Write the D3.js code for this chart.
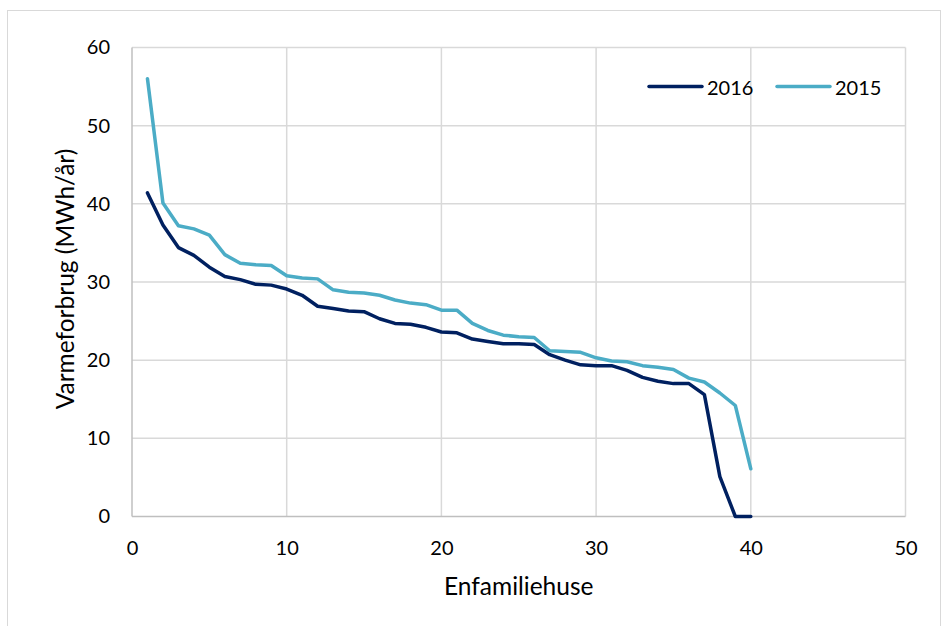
<!DOCTYPE html>
<html>
<head>
<meta charset="utf-8">
<script src="https://cdn.jsdelivr.net/npm/d3@7"></script>
<style>
  body { margin: 0; background: #fff; }
  text { font-family: Lato, "Open Sans", sans-serif; fill: #000; }
</style>
</head>
<body>
<div id="heatChart"></div>
<script>
// data
const houses = [1,2,3,4,5,6,7,8,9,10,11,12,13,14,15,16,17,18,19,20,
                21,22,23,24,25,26,27,28,29,30,31,32,33,34,35,36,37,38,39,40];
const heat2016 = [41.4,37.3,34.4,33.4,31.9,30.7,30.3,29.7,29.6,29.1,
                  28.3,26.9,26.6,26.3,26.2,25.3,24.7,24.6,24.2,23.6,
                  23.5,22.7,22.4,22.1,22.1,22.0,20.7,20.0,19.4,19.3,
                  19.3,18.7,17.8,17.3,17.0,17.0,15.6,5.1,0,0];
const heat2015 = [56.0,40.1,37.2,36.8,36.0,33.5,32.4,32.2,32.1,30.8,
                  30.5,30.4,29.0,28.7,28.6,28.3,27.7,27.3,27.1,26.4,
                  26.4,24.7,23.8,23.2,23.0,22.9,21.2,21.1,21.0,20.3,
                  19.9,19.8,19.3,19.1,18.8,17.7,17.2,15.8,14.2,6.1];
const seriesNames = ['2016', '2015'];
const xTicks = [0, 10, 20, 30, 40, 50];
const yTicks = [0, 10, 20, 30, 40, 50, 60];

const W = 947, H = 626;
const margin = {top: 47.5, right: 41.5, bottom: 109.5, left: 132},
    width = W - margin.left - margin.right,
    height = H - margin.top - margin.bottom;

const colors = {'2016': '#002060', '2015': '#4bacc6'};

const svgRoot = d3.select('#heatChart').append('svg')
    .attr('width', W)
    .attr('height', H);

// outer chart frame (bottom edge runs off the picture)
svgRoot.append('rect')
    .attr('x', 7.5).attr('y', 10.5)
    .attr('width', 933).attr('height', 640)
    .attr('fill', '#fff')
    .attr('stroke', '#d9d9d9')
    .attr('stroke-width', 1);

const svg = svgRoot.append('g')
    .attr('transform', `translate(${margin.left},${margin.top})`);

const x = d3.scaleLinear().domain([0, 50]).range([0, width]);
const y = d3.scaleLinear().domain([0, 60]).range([height, 0]);

// grid
svg.append('g')
  .selectAll('line')
  .data(yTicks.filter(d => d > 0))
  .enter().append('line')
    .attr('x1', 0).attr('x2', width)
    .attr('y1', d => y(d)).attr('y2', d => y(d))
    .attr('stroke', '#d9d9d9').attr('stroke-width', 1.5);

svg.append('g')
  .selectAll('line')
  .data(xTicks.filter(d => d > 0))
  .enter().append('line')
    .attr('x1', d => x(d)).attr('x2', d => x(d))
    .attr('y1', 0).attr('y2', height)
    .attr('stroke', '#d9d9d9').attr('stroke-width', 1.5);

// axis lines
svg.append('line')
    .attr('x1', 0).attr('x2', 0).attr('y1', 0).attr('y2', height)
    .attr('stroke', '#bfbfbf').attr('stroke-width', 1.5);
svg.append('line')
    .attr('x1', 0).attr('x2', width).attr('y1', height).attr('y2', height)
    .attr('stroke', '#bfbfbf').attr('stroke-width', 1.5);

// tick labels
const xAxis = d3.axisBottom(x).tickValues(xTicks).tickSize(0).tickPadding(24);
const yAxis = d3.axisLeft(y).tickValues(yTicks).tickSize(0).tickPadding(22);

svg.append('g')
    .attr('transform', `translate(0,${height})`)
    .call(xAxis)
    .call(g => g.select('.domain').remove())
    .selectAll('text')
      .style('font-size', '20px');

svg.append('g')
    .call(yAxis)
    .call(g => g.select('.domain').remove())
    .selectAll('text')
      .style('font-size', '20px');

// axis titles
svg.append('text')
    .attr('text-anchor', 'middle')
    .attr('transform', `translate(${width / 2},${height + 78})`)
    .style('font-size', '24.5px')
    .text('Enfamiliehuse');

svg.append('text')
    .attr('text-anchor', 'middle')
    .attr('transform', `translate(${-58},${height / 2 - 3}) rotate(-90)`)
    .style('font-size', '24.5px')
    .text('Varmeforbrug (MWh/år)');

// lines
const line = d3.line()
    .x((d, i) => x(houses[i]))
    .y(d => y(d));

[heat2016, heat2015].forEach((vals, k) => {
  svg.append('path')
    .datum(vals)
    .attr('fill', 'none')
    .attr('stroke', colors[seriesNames[k]])
    .attr('stroke-width', 3.5)
    .attr('stroke-linejoin', 'round')
    .attr('stroke-linecap', 'round')
    .attr('d', line);
});

// legend
const legendX = [649, 777];
const legend = svgRoot.append('g');
seriesNames.forEach((name, k) => {
  legend.append('line')
    .attr('x1', legendX[k]).attr('x2', legendX[k] + 53)
    .attr('y1', 86.5).attr('y2', 86.5)
    .attr('stroke', colors[name])
    .attr('stroke-width', 3.5)
    .attr('stroke-linecap', 'round');
  legend.append('text')
    .attr('x', legendX[k] + 58)
    .attr('y', 94.5)
    .style('font-size', '20px')
    .text(name);
});
</script>
</body>
</html>
